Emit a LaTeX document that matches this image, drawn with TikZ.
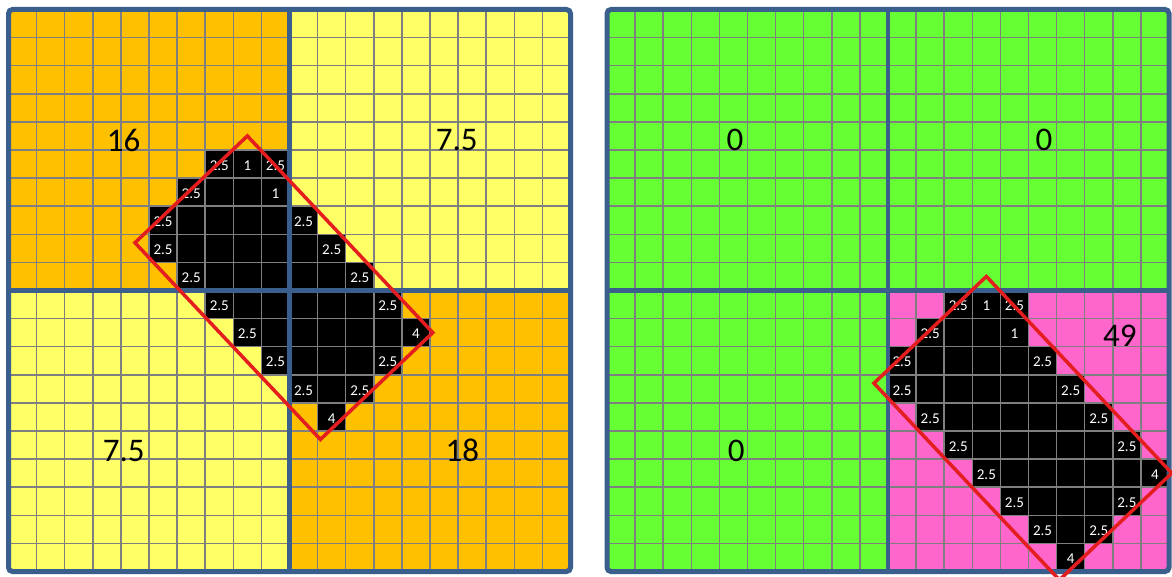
\documentclass[tikz,border=0pt]{standalone}
\usepackage{fontspec}
\setmainfont{Carlito}
\definecolor{orng}{HTML}{FFC000}
\definecolor{ylw}{HTML}{FFFF66}
\definecolor{grn}{HTML}{66FF33}
\definecolor{pnk}{HTML}{FF66CC}
\definecolor{bord}{HTML}{3B5F8C}
\definecolor{gridc}{HTML}{7F7F7F}
\definecolor{redl}{HTML}{E41E1E}
\tikzset{
  gridline/.style={draw=gridc, line width=1.5pt},
  thickline/.style={draw=bord, line width=4.5pt},
  outerbox/.style={draw=bord, line width=5pt, rounded corners=4pt},
  redbox/.style={draw=redl, line width=3.5pt, line join=miter},
  celllabel/.style={text=white, font=\fontsize{15}{18}\selectfont, inner sep=0pt},
  biglabel/.style={text=black, font=\fontsize{33}{40}\selectfont, inner sep=0pt}
}
\newcommand\blkcells[2]{%
  \foreach \r/\a/\b in {5/7/9,6/6/9,7/5/10,8/5/11,9/6/12,10/7/13,11/8/14,12/9/13,13/10/12,14/11/11}
    \fill[black] (\a+#1,\r+#1) rectangle (\b+#1+1,\r+#1+1);
}
\newcommand\blklabels[2]{%
  \foreach \c/\r/\t in {7/5/2.5,8/5/1,9/5/2.5,6/6/2.5,9/6/1,5/7/2.5,10/7/2.5,5/8/2.5,11/8/2.5,6/9/2.5,12/9/2.5,7/10/2.5,13/10/2.5,8/11/2.5,14/11/4,9/12/2.5,13/12/2.5,10/13/2.5,12/13/2.5,11/14/4}
    \node[celllabel] (#2-\c-\r) at (\c+#1+0.5,\r+#1+0.55) {\t};
}
\newcommand\gridlines{%
  \foreach \i in {1,...,19} {
    \draw[gridline] (\i,0) -- (\i,20);
    \draw[gridline] (0,\i) -- (20,\i);
  }
}
\begin{document}
\begin{tikzpicture}[x=1pt,y=-1pt]
\useasboundingbox (0,0) rectangle (1172,577);
\fill[white] (0,0) rectangle (1172,577);
% ---------- left grid ----------
\begin{scope}[shift={(8.5pt,-9.5pt)}, x=28.1pt, y=-28.1pt]
  \fill[orng] (0,0) rectangle (10,10);
  \fill[ylw] (10,0) rectangle (20,10);
  \fill[ylw] (0,10) rectangle (10,20);
  \fill[orng] (10,10) rectangle (20,20);
  \blkcells{0}{L}
  \gridlines
  \draw[thickline] (10,0) -- (10,20);
  \draw[thickline] (0,10) -- (20,10);
  \draw[outerbox] (0,0) rectangle (20,20);
  \blklabels{0}{L}
  \node[biglabel] (L16) at (4.1,4.65) {16};
  \node[biglabel] (L75a) at (15.95,4.65) {7.5};
  \node[biglabel] (L75b) at (4.1,15.7) {7.5};
  \node[biglabel] (L18) at (16.15,15.7) {18};
  \draw[redbox] (8.5,4.5) -- (15.1,11.5) -- (11.1,15.3) -- (4.5,8.3) -- cycle;
\end{scope}
% ---------- right grid ----------
\begin{scope}[shift={(607pt,-9.5pt)}, x=28.1pt, y=-28.1pt]
  \fill[grn] (0,0) rectangle (20,20);
  \fill[pnk] (10,10) rectangle (20,20);
  \blkcells{5}{R}
  \gridlines
  \draw[thickline] (10,0) -- (10,20);
  \draw[thickline] (0,10) -- (20,10);
  \draw[outerbox] (0,0) rectangle (20,20);
  \blklabels{5}{R}
  \node[biglabel] (R0a) at (4.55,4.65) {0};
  \node[biglabel] (R0b) at (15.55,4.65) {0};
  \node[biglabel] (R0c) at (4.6,15.7) {0};
  \node[biglabel] (R49) at (18.25,11.6) {49};
  \draw[redbox] (13.5,9.5) -- (20.1,16.5) -- (16.1,20.3) -- (9.5,13.3) -- cycle;
\end{scope}
\end{tikzpicture}
\end{document}
